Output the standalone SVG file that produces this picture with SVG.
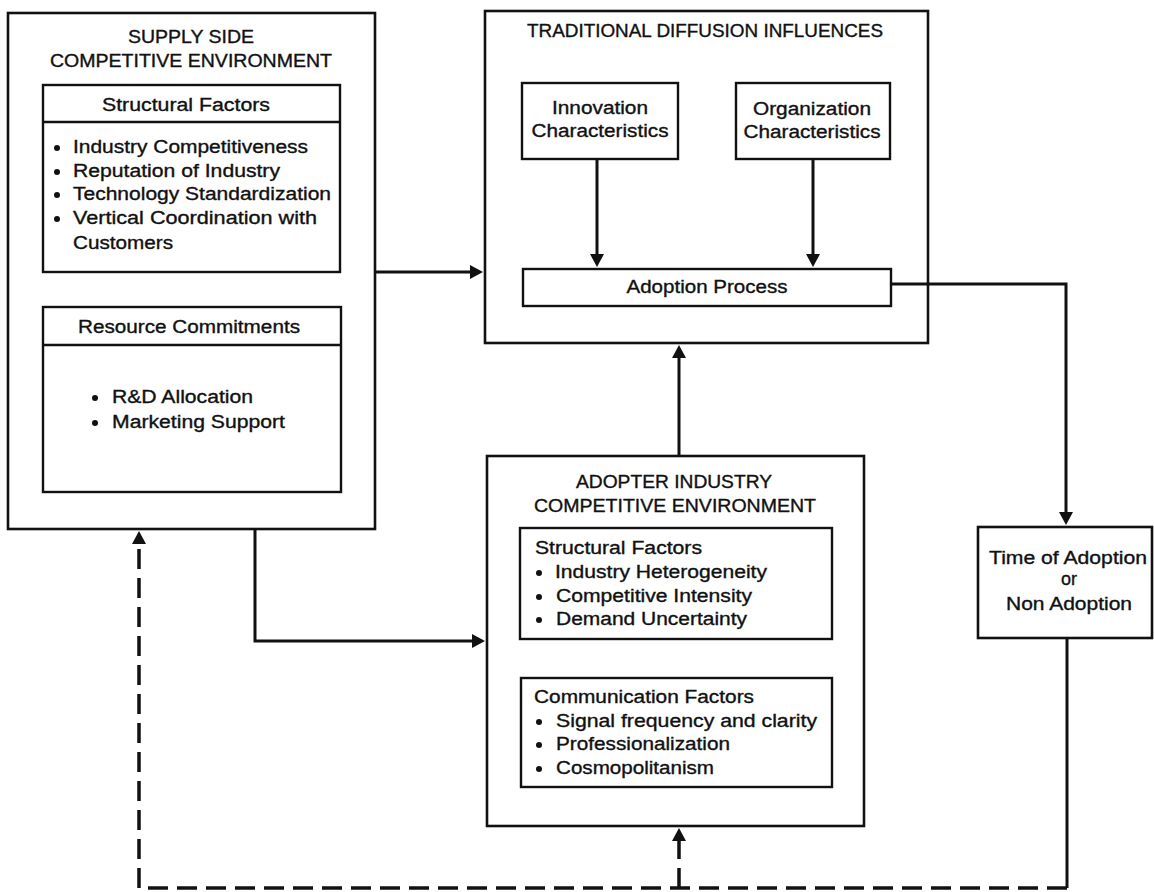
<svg xmlns="http://www.w3.org/2000/svg" width="1154" height="892" viewBox="0 0 1154 892">
  <defs>
    <style>
      .box { fill: none; stroke: #111; stroke-width: 2.6; }
      .inner { fill: none; stroke: #111; stroke-width: 2.4; }
      .wire { fill: none; stroke: #111; stroke-width: 3; }
      .dash { fill: none; stroke: #111; stroke-width: 3.5; stroke-dasharray: 20 9; }
      text { font-family: "Liberation Sans", Arial, sans-serif; font-size: 18px; fill: #111; stroke: #111; stroke-width: 0.35; }
      .c { text-anchor: middle; }
      .dot { fill: #111; }
    </style>
    <marker id="ah" markerWidth="16" markerHeight="14" refX="2" refY="7" orient="auto" markerUnits="userSpaceOnUse">
      <path d="M0,0 L13,7 L0,14 z" fill="#111"/>
    </marker>
  </defs>
  <rect width="1154" height="892" fill="#fff"/>

  <!-- Supply side competitive environment -->
  <g id="supply-side">
    <rect class="box" x="8" y="13" width="367" height="516"/>
    <text class="c" x="191" y="43" textLength="126" lengthAdjust="spacingAndGlyphs">SUPPLY SIDE</text>
    <text class="c" x="191" y="67" textLength="282" lengthAdjust="spacingAndGlyphs">COMPETITIVE ENVIRONMENT</text>
  </g>
  <g id="supply-structural">
    <rect class="inner" x="43" y="85" width="297" height="187"/>
    <line class="inner" x1="43" y1="122" x2="340" y2="122"/>
    <text class="c" x="186" y="111" textLength="168" lengthAdjust="spacingAndGlyphs">Structural Factors</text>
    <circle class="dot" cx="57" cy="148" r="3"/>
    <text x="73" y="153" textLength="235" lengthAdjust="spacingAndGlyphs">Industry Competitiveness</text>
    <circle class="dot" cx="57" cy="172" r="3"/>
    <text x="73" y="177" textLength="207" lengthAdjust="spacingAndGlyphs">Reputation of Industry</text>
    <circle class="dot" cx="57" cy="195" r="3"/>
    <text x="73" y="200" textLength="258" lengthAdjust="spacingAndGlyphs">Technology Standardization</text>
    <circle class="dot" cx="57" cy="219" r="3"/>
    <text x="73" y="224" textLength="244" lengthAdjust="spacingAndGlyphs">Vertical Coordination with</text>
    <text x="73" y="249" textLength="100" lengthAdjust="spacingAndGlyphs">Customers</text>
  </g>
  <g id="supply-resources">
    <rect class="inner" x="43" y="307" width="298" height="185"/>
    <line class="inner" x1="43" y1="345" x2="341" y2="345"/>
    <text class="c" x="189" y="333" textLength="222" lengthAdjust="spacingAndGlyphs">Resource Commitments</text>
    <circle class="dot" cx="95" cy="398" r="3"/>
    <text x="112" y="403" textLength="141" lengthAdjust="spacingAndGlyphs">R&amp;D Allocation</text>
    <circle class="dot" cx="95" cy="423" r="3"/>
    <text x="112" y="428" textLength="173" lengthAdjust="spacingAndGlyphs">Marketing Support</text>
  </g>

  <!-- Traditional diffusion influences -->
  <g id="traditional">
    <rect class="box" x="485" y="11" width="443" height="332"/>
    <text class="c" x="705" y="37" textLength="356" lengthAdjust="spacingAndGlyphs">TRADITIONAL DIFFUSION INFLUENCES</text>
  </g>
  <g id="innovation">
    <rect class="inner" x="522" y="83" width="156" height="76"/>
    <text class="c" x="600" y="114" textLength="96" lengthAdjust="spacingAndGlyphs">Innovation</text>
    <text class="c" x="600" y="137" textLength="137" lengthAdjust="spacingAndGlyphs">Characteristics</text>
  </g>
  <g id="organization">
    <rect class="inner" x="736" y="83" width="154" height="76"/>
    <text class="c" x="812" y="115" textLength="118" lengthAdjust="spacingAndGlyphs">Organization</text>
    <text class="c" x="812" y="138" textLength="137" lengthAdjust="spacingAndGlyphs">Characteristics</text>
  </g>
  <g id="adoption-process">
    <rect class="inner" x="523" y="269" width="368" height="37"/>
    <text class="c" x="707" y="293" textLength="161" lengthAdjust="spacingAndGlyphs">Adoption Process</text>
  </g>

  <!-- Adopter industry competitive environment -->
  <g id="adopter">
    <rect class="box" x="487" y="456" width="377" height="370"/>
    <text class="c" x="674" y="488" textLength="196" lengthAdjust="spacingAndGlyphs">ADOPTER INDUSTRY</text>
    <text class="c" x="675" y="512" textLength="282" lengthAdjust="spacingAndGlyphs">COMPETITIVE ENVIRONMENT</text>
  </g>
  <g id="adopter-structural">
    <rect class="inner" x="520" y="528" width="312" height="111"/>
    <text x="535" y="554" textLength="167" lengthAdjust="spacingAndGlyphs">Structural Factors</text>
    <circle class="dot" cx="539" cy="573" r="3"/>
    <text x="555" y="578" textLength="212" lengthAdjust="spacingAndGlyphs">Industry Heterogeneity</text>
    <circle class="dot" cx="539" cy="597" r="3"/>
    <text x="556" y="602" textLength="196" lengthAdjust="spacingAndGlyphs">Competitive Intensity</text>
    <circle class="dot" cx="539" cy="620" r="3"/>
    <text x="556" y="625" textLength="191" lengthAdjust="spacingAndGlyphs">Demand Uncertainty</text>
  </g>
  <g id="communication">
    <rect class="inner" x="521" y="678" width="311" height="109"/>
    <text x="534" y="703" textLength="220" lengthAdjust="spacingAndGlyphs">Communication Factors</text>
    <circle class="dot" cx="539" cy="722" r="3"/>
    <text x="556" y="727" textLength="261" lengthAdjust="spacingAndGlyphs">Signal frequency and clarity</text>
    <circle class="dot" cx="539" cy="745" r="3"/>
    <text x="556" y="750" textLength="174" lengthAdjust="spacingAndGlyphs">Professionalization</text>
    <circle class="dot" cx="539" cy="769" r="3"/>
    <text x="556" y="774" textLength="158" lengthAdjust="spacingAndGlyphs">Cosmopolitanism</text>
  </g>

  <!-- Outcome -->
  <g id="outcome">
    <rect class="box" x="978" y="527" width="174" height="111"/>
    <text class="c" x="1068" y="564" textLength="158" lengthAdjust="spacingAndGlyphs">Time of Adoption</text>
    <text class="c" x="1069" y="585">or</text>
    <text class="c" x="1069" y="610" textLength="126" lengthAdjust="spacingAndGlyphs">Non Adoption</text>
  </g>

  <!-- Connectors -->
  <g id="connectors">
    <path class="wire" d="M375,272 H472" marker-end="url(#ah)"/>
    <path class="wire" d="M597,159 V256" marker-end="url(#ah)"/>
    <path class="wire" d="M813,159 V256" marker-end="url(#ah)"/>
    <path class="wire" d="M679,456 V356" marker-end="url(#ah)"/>
    <path class="wire" d="M891,284 H1066 V514" marker-end="url(#ah)"/>
    <path class="wire" d="M255,529 V641 H474" marker-end="url(#ah)"/>
    <path class="wire" d="M1067,638 V888"/>
    <path class="dash" d="M1067,888 H139 V542" marker-end="url(#ah)"/>
    <path class="dash" d="M679,888 V839" marker-end="url(#ah)"/>
  </g>
</svg>
